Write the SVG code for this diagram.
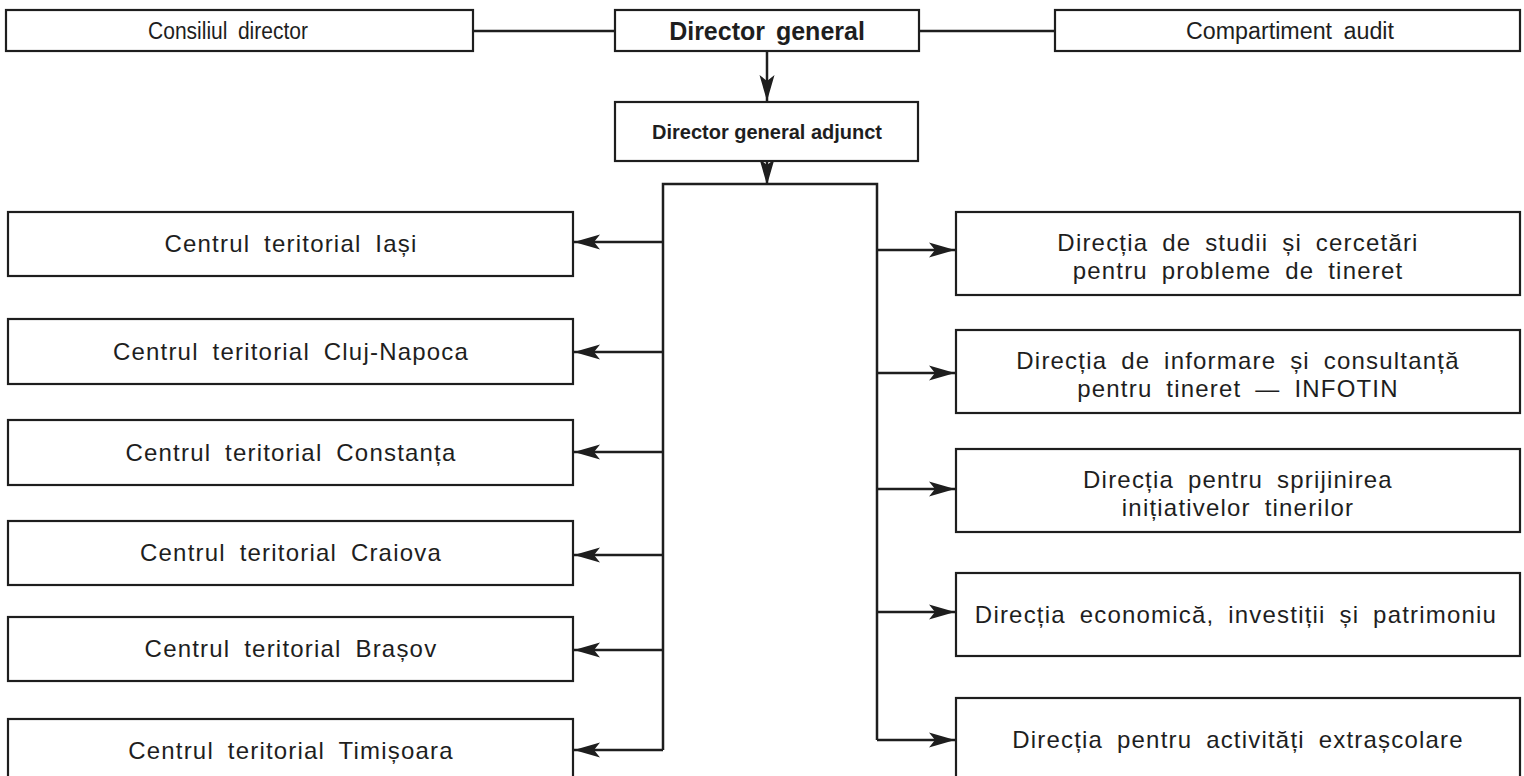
<svg xmlns="http://www.w3.org/2000/svg" width="1524" height="776" viewBox="0 0 1524 776">
<defs>
<style>
.box{fill:#fff;stroke:#1e1e1e;stroke-width:2.2}
.ln{fill:none;stroke:#1e1e1e;stroke-width:2.5}
.t{font-family:"Liberation Sans",Arial,Helvetica,sans-serif;font-size:24px;letter-spacing:1.2px;word-spacing:6px;fill:#1e1e1e;text-anchor:middle}
.s{font-family:"Liberation Sans",Arial,Helvetica,sans-serif;font-size:23px;word-spacing:5px;fill:#1e1e1e;text-anchor:middle}
.b{font-family:"Liberation Sans",Arial,Helvetica,sans-serif;font-weight:bold;fill:#1e1e1e;text-anchor:middle}
</style>
<marker id="ah" viewBox="-27 -8 28 16" refX="0" refY="0" markerWidth="28" markerHeight="16" markerUnits="userSpaceOnUse" orient="auto">
<path d="M0,0 L-26,-7.5 L-20,0 L-26,7.5 Z" fill="#1e1e1e"/>
</marker>
</defs>
<rect width="1524" height="776" fill="#fff"/>
<g id="connectors">
<line class="ln" x1="473" y1="31" x2="615" y2="31"/>
<line class="ln" x1="919" y1="31" x2="1055" y2="31"/>
<line class="ln" x1="767" y1="51" x2="767" y2="101" marker-end="url(#ah)"/>
<line class="ln" x1="767" y1="161" x2="767" y2="185" marker-end="url(#ah)"/>
<path class="ln" d="M663,750 V184 H877 V740"/>
<line class="ln" x1="663" y1="242" x2="574" y2="242" marker-end="url(#ah)"/>
<line class="ln" x1="663" y1="352" x2="574" y2="352" marker-end="url(#ah)"/>
<line class="ln" x1="663" y1="452" x2="574" y2="452" marker-end="url(#ah)"/>
<line class="ln" x1="663" y1="555" x2="574" y2="555" marker-end="url(#ah)"/>
<line class="ln" x1="663" y1="650" x2="574" y2="650" marker-end="url(#ah)"/>
<line class="ln" x1="663" y1="750" x2="574" y2="750" marker-end="url(#ah)"/>
<line class="ln" x1="877" y1="250" x2="955" y2="250" marker-end="url(#ah)"/>
<line class="ln" x1="877" y1="373" x2="955" y2="373" marker-end="url(#ah)"/>
<line class="ln" x1="877" y1="489" x2="955" y2="489" marker-end="url(#ah)"/>
<line class="ln" x1="877" y1="612" x2="955" y2="612" marker-end="url(#ah)"/>
<line class="ln" x1="877" y1="740" x2="955" y2="740" marker-end="url(#ah)"/>
</g>
<g id="consiliul"><rect class="box" x="6" y="10" width="467" height="41"/><text class="s" x="228" y="39" textLength="160" lengthAdjust="spacingAndGlyphs">Consiliul director</text></g>
<g id="director-general"><rect class="box" x="615" y="10" width="304" height="41"/><text class="b" x="767" y="40" font-size="25" word-spacing="4">Director general</text></g>
<g id="audit"><rect class="box" x="1055" y="10" width="465" height="41"/><text class="s" x="1290" y="39" textLength="208" lengthAdjust="spacingAndGlyphs">Compartiment audit</text></g>
<g id="adjunct"><rect class="box" x="615" y="102" width="303" height="59"/><text class="b" x="767" y="139" font-size="20">Director general adjunct</text></g>
<g id="iasi"><rect class="box" x="8" y="212" width="565" height="64"/><text class="t" x="291" y="252">Centrul teritorial Iași</text></g>
<g id="cluj"><rect class="box" x="8" y="319" width="565" height="65"/><text class="t" x="291" y="360">Centrul teritorial Cluj-Napoca</text></g>
<g id="constanta"><rect class="box" x="8" y="420" width="565" height="65"/><text class="t" x="291" y="461">Centrul teritorial Constanța</text></g>
<g id="craiova"><rect class="box" x="8" y="521" width="565" height="64"/><text class="t" x="291" y="561">Centrul teritorial Craiova</text></g>
<g id="brasov"><rect class="box" x="8" y="617" width="565" height="64"/><text class="t" x="291" y="657">Centrul teritorial Brașov</text></g>
<g id="timisoara"><rect class="box" x="8" y="719" width="565" height="66"/><text class="t" x="291" y="759">Centrul teritorial Timișoara</text></g>
<g id="studii"><rect class="box" x="956" y="212" width="564" height="83"/><text class="t" x="1238" y="251">Direcția de studii și cercetări</text><text class="t" x="1238" y="279">pentru probleme de tineret</text></g>
<g id="infotin"><rect class="box" x="956" y="330" width="564" height="83"/><text class="t" x="1238" y="369">Direcția de informare și consultanță</text><text class="t" x="1238" y="397">pentru tineret — INFOTIN</text></g>
<g id="initiative"><rect class="box" x="956" y="449" width="564" height="83"/><text class="t" x="1238" y="488">Direcția pentru sprijinirea</text><text class="t" x="1238" y="516">inițiativelor tinerilor</text></g>
<g id="economica"><rect class="box" x="956" y="573" width="564" height="83"/><text class="t" x="1236" y="623">Direcția economică, investiții și patrimoniu</text></g>
<g id="extrascolare"><rect class="box" x="956" y="698" width="564" height="85"/><text class="t" x="1238" y="748">Direcția pentru activități extrașcolare</text></g>
</svg>
